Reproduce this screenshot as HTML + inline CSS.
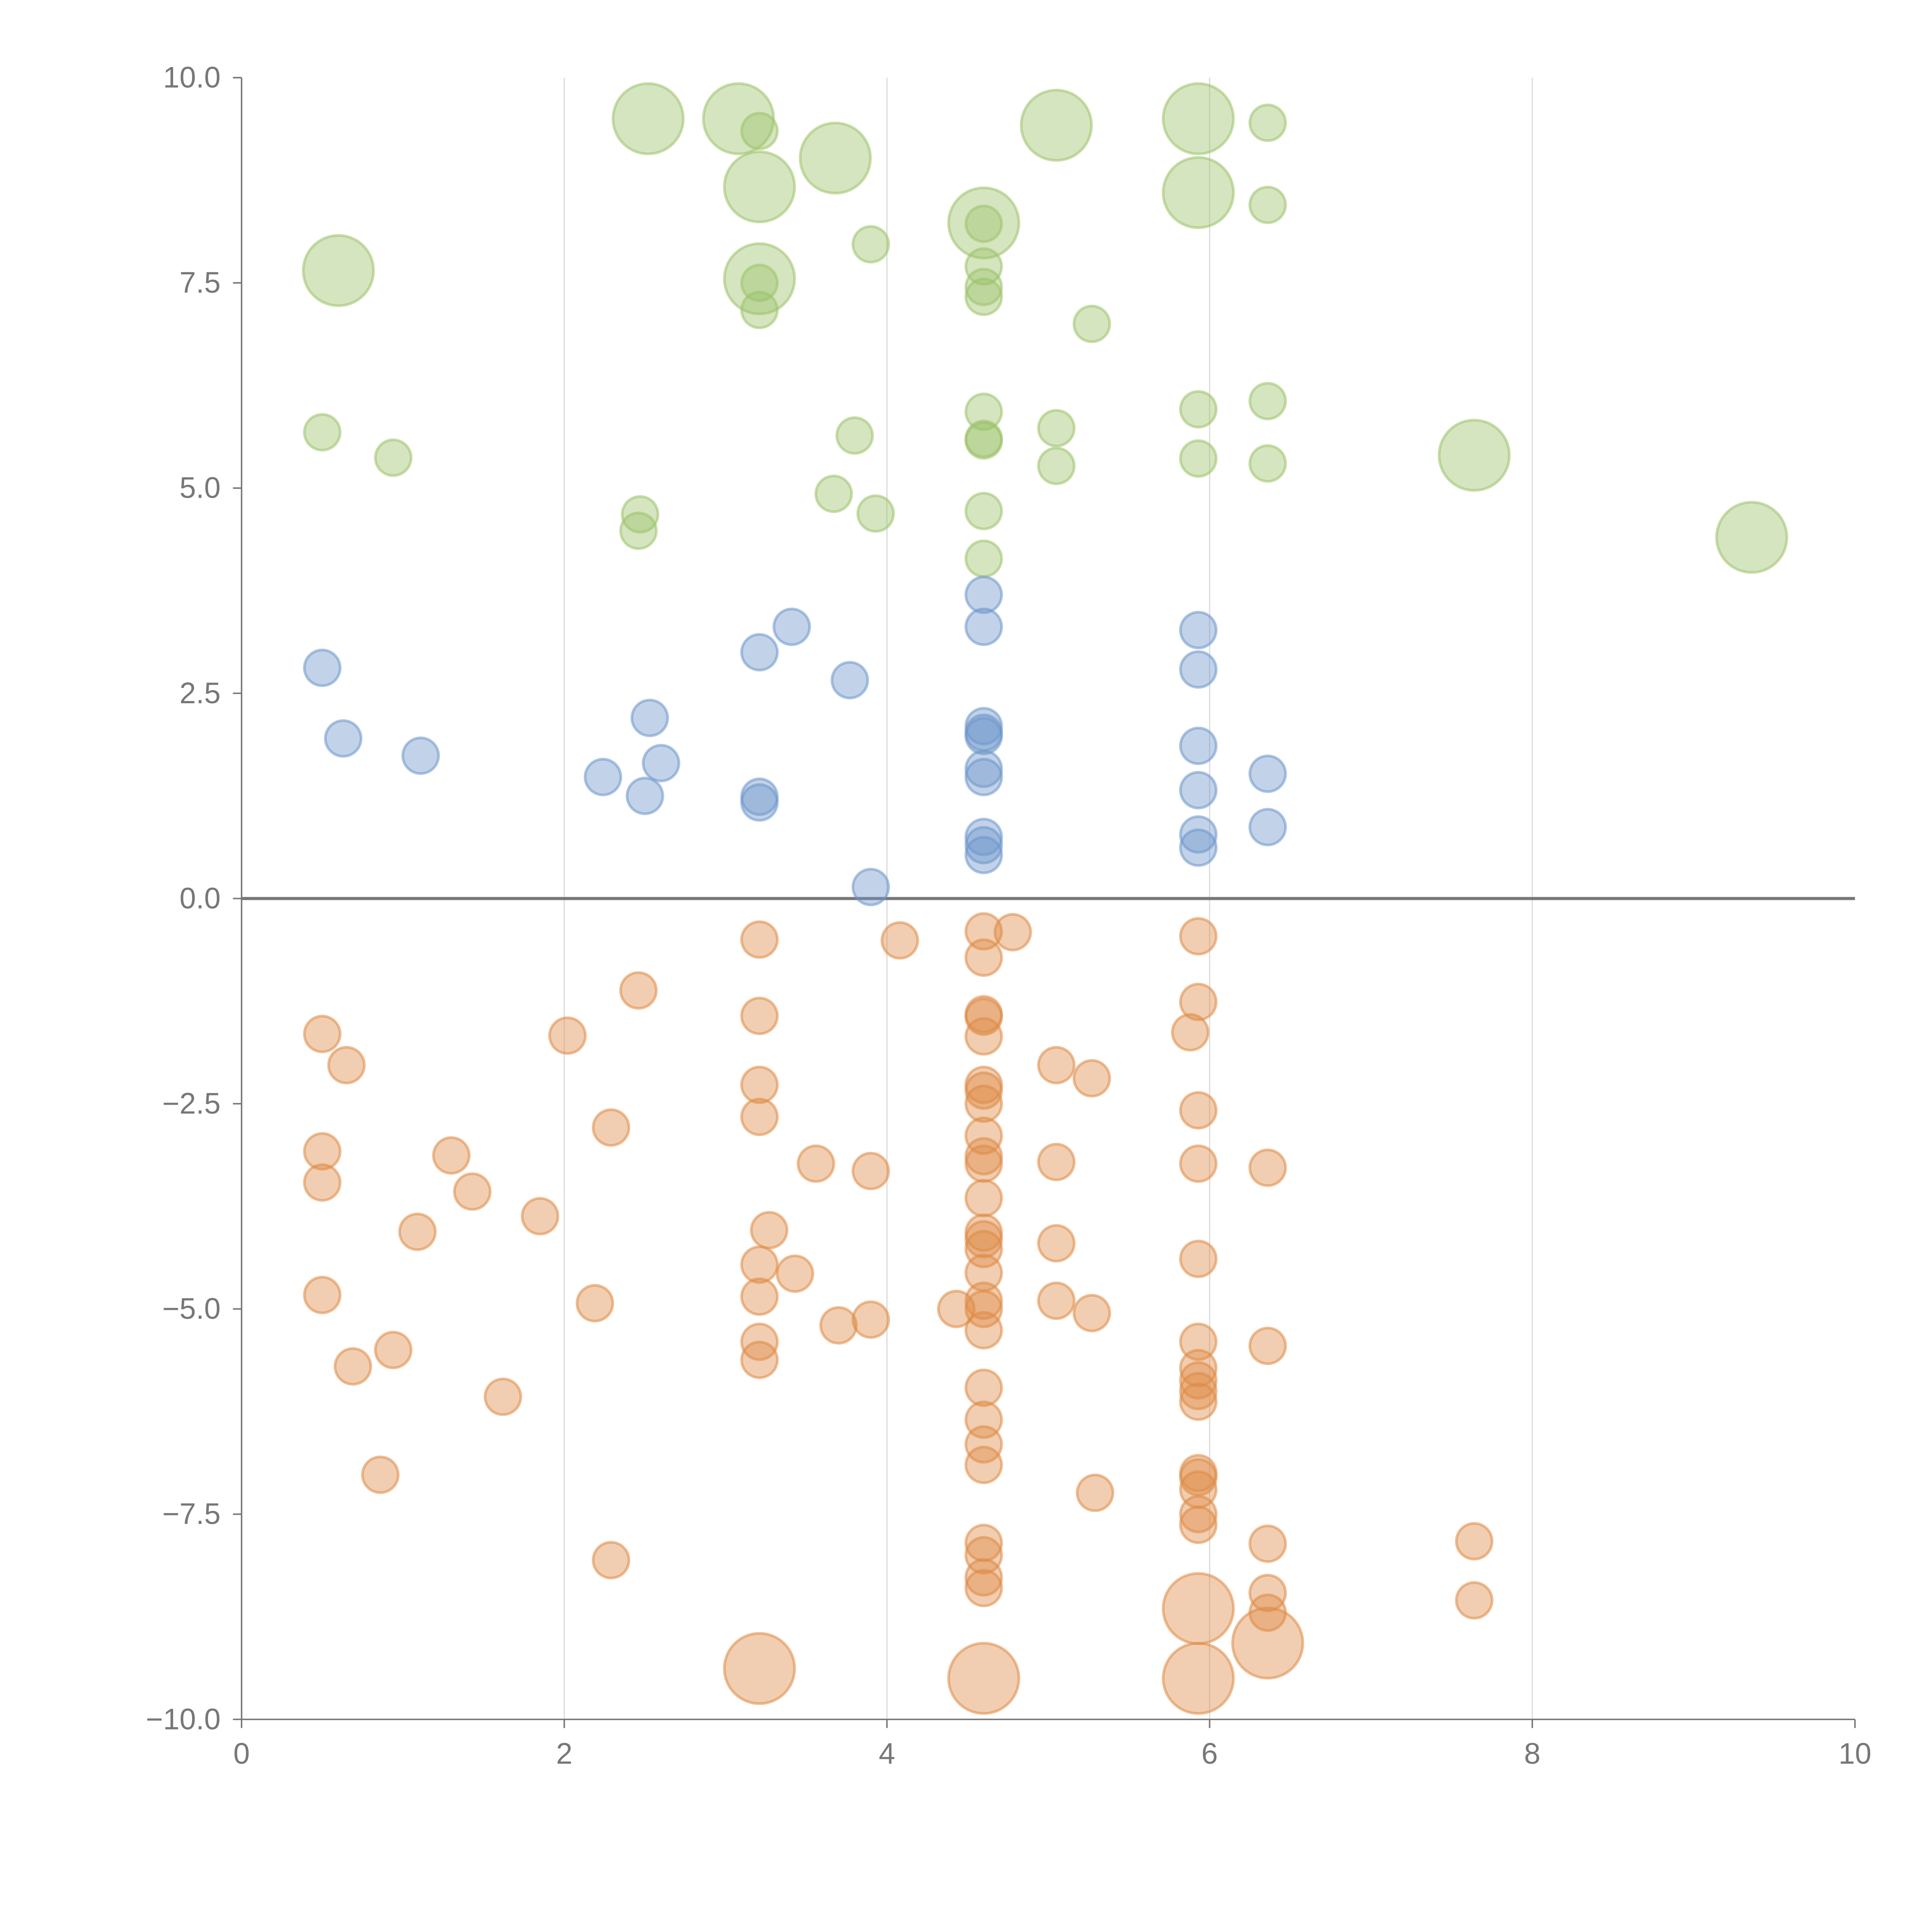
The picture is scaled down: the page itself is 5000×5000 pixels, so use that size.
<!DOCTYPE html>
<html><head><meta charset="utf-8"><style>html,body{margin:0;padding:0;background:#fff}svg{display:block}</style></head>
<body>
<svg id="chart" xmlns="http://www.w3.org/2000/svg" width="5000" height="5000" viewBox="0 0 1567.5 1567.5" font-family="Liberation Sans, sans-serif">
<g id="grid"></g>
<g id="axes"></g>
<g id="marks"></g>
</svg>
<script>
const xTicks = [0,2,4,6,8,10];
const yTicks = [10,7.5,5,2.5,0,-2.5,-5,-7.5,-10];
const yTickLabels = ["10.0","7.5","5.0","2.5","0.0","\u22122.5","\u22125.0","\u22127.5","\u221210.0"];
const greenX = [2.52,3.08,3.21,3.68,5.05,5.93,5.93,4.6,3.21,0.6,7.64,9.36,3.21,6.36,6.36,3.9,4.6,4.6,4.6,4.6,3.21,3.21,5.27,0.5,0.94,3.8,3.67,3.93,2.47,2.46,4.6,4.6,4.6,4.6,4.6,5.05,5.05,5.93,5.93,6.36,6.36];
const greenY = [9.5,9.5,8.67,9.02,9.42,9.5,8.6,8.23,7.55,7.65,5.4,4.4,9.35,9.45,8.45,7.97,8.22,7.7,7.45,7.33,7.5,7.17,7.0,5.68,5.37,5.64,4.93,4.69,4.68,4.48,5.93,5.6,5.58,4.72,4.14,5.73,5.27,5.96,5.36,6.06,5.3];
const greenSize = [2,2,2,2,2,2,2,2,2,2,2,2,1,1,1,1,1,1,1,1,1,1,1,1,1,1,1,1,1,1,1,1,1,1,1,1,1,1,1,1,1];
const blueX = [0.5,0.63,1.11,2.24,2.5,2.53,2.6,3.21,3.41,3.21,3.21,3.77,3.9,4.6,4.6,4.6,4.6,4.6,4.6,4.6,4.6,4.6,4.6,5.93,5.93,5.93,5.93,5.93,5.93,6.36,6.36];
const blueY = [2.81,1.95,1.74,1.48,1.25,2.2,1.65,3.0,3.31,1.24,1.17,2.66,0.14,3.7,3.31,2.1,2.02,1.98,1.58,1.48,0.75,0.65,0.53,3.27,2.79,1.86,1.32,0.78,0.62,1.52,0.87];
const orangeX = [0.5,0.65,0.5,0.5,0.5,0.69,0.94,0.86,1.09,1.3,1.43,1.62,1.85,2.02,2.19,2.29,2.29,2.46,3.21,3.21,3.21,3.21,3.27,3.21,3.21,3.43,3.21,3.21,3.56,3.7,3.9,3.9,4.08,4.43,4.6,4.6,4.78,4.6,4.6,4.6,4.6,4.6,4.6,4.6,4.6,4.6,4.6,4.6,4.6,4.6,4.6,4.6,4.6,4.6,4.6,4.6,4.6,4.6,4.6,4.6,4.6,4.6,5.05,5.27,5.05,5.05,5.05,5.27,5.29,5.88,5.93,5.93,5.93,5.93,5.93,5.93,5.93,5.93,5.93,5.93,5.93,5.93,5.93,5.93,5.93,6.36,6.36,6.36,6.36,6.36,7.64,7.64,3.21,4.6,5.93,5.93,6.36];
const orangeY = [-1.65,-2.03,-3.08,-3.46,-4.83,-5.7,-5.5,-7.02,-4.06,-3.13,-3.57,-6.07,-3.87,-1.67,-4.93,-2.79,-8.06,-1.12,-0.5,-1.43,-2.27,-2.66,-4.04,-4.46,-4.85,-4.57,-5.4,-5.62,-3.23,-5.2,-3.32,-5.13,-0.51,-5.0,-0.4,-0.72,-0.41,-1.41,-1.44,-1.68,-2.27,-2.34,-2.5,-2.89,-3.14,-3.23,-3.65,-4.07,-4.15,-4.27,-4.56,-4.9,-5.0,-5.26,-5.96,-6.35,-6.65,-6.9,-7.85,-8.0,-8.27,-8.4,-2.03,-2.19,-3.21,-4.2,-4.9,-5.05,-7.24,-1.63,-0.46,-1.26,-2.58,-3.23,-4.39,-5.4,-5.72,-5.87,-6.0,-6.13,-7.0,-7.05,-7.2,-7.5,-7.63,-3.28,-5.45,-7.86,-8.46,-8.7,-7.83,-8.55,-9.38,-9.5,-8.65,-9.5,-9.07];
const orangeSize = orangeX.map((v,i)=> i>=orangeX.length-5 ? 2 : 1);

const NS = "http://www.w3.org/2000/svg";
const X0=196, X1=1505, Y0=63, Y1=1395;
function sx(v){return X0+(v-0)/(10-0)*(X1-X0);}
function sy(v){return Y1-(v+10)/20*(Y1-Y0);}
function mk(tag, attrs, parent){const e=document.createElementNS(NS,tag);for(const k in attrs)e.setAttribute(k,attrs[k]);parent.appendChild(e);return e;}
const grid=document.getElementById('grid'), axes=document.getElementById('axes'), marks=document.getElementById('marks');

xTicks.forEach(t=>{
  if(t>0 && t<10){
    const l=mk('line',{x1:sx(t),x2:sx(t),y1:Y0,y2:Y1,stroke:'#dcdcdc','stroke-width':1},grid);
    
    
  }
  const tk=mk('line',{x1:sx(t),x2:sx(t),y1:Y1,y2:Y1+7,stroke:'#777','stroke-width':1.2},axes);
  
  
  const tx=mk('text',{x:sx(t),y:Y1+36,'text-anchor':'middle','font-size':24,fill:'#777'},axes);
  tx.textContent=String(t);
  
  
});
yTicks.forEach((t,i)=>{
  const tk=mk('line',{x1:X0-7,x2:X0,y1:sy(t),y2:sy(t),stroke:'#777','stroke-width':1.2},axes);
  
  
  const tx=mk('text',{x:X0-17,y:sy(t)+8,'text-anchor':'end','font-size':24,fill:'#777'},axes);
  tx.textContent=yTickLabels[i];
  
  
});
const ya=mk('line',{x1:X0,x2:X0,y1:Y0,y2:Y1,stroke:'#777','stroke-width':1.2},axes);


const xa=mk('line',{x1:X0,x2:X1,y1:Y1,y2:Y1,stroke:'#777','stroke-width':1.2},axes);


const zl=mk('line',{x1:X0,x2:X1,y1:sy(0),y2:sy(0),stroke:'#777','stroke-width':2.5},axes);



function drawSeries(xs,ys,sizes,fill,name){
  xs.forEach((x,i)=>{
    const r = sizes[i]===2 ? 28.5 : 14.5;
    const c=mk('circle',{cx:sx(x),cy:sy(ys[i]),r:r,fill:fill,'fill-opacity':0.42,stroke:fill,'stroke-opacity':0.55,'stroke-width':2.2},marks);
    
    
  });
}
drawSeries(greenX,greenY,greenSize,'#9cc26a','green-bubble');
drawSeries(blueX,blueY,blueX.map(()=>1),'#6d95cb','blue-bubble');
drawSeries(orangeX,orangeY,orangeSize,'#de8a45','orange-bubble');
</script>
</body></html>
